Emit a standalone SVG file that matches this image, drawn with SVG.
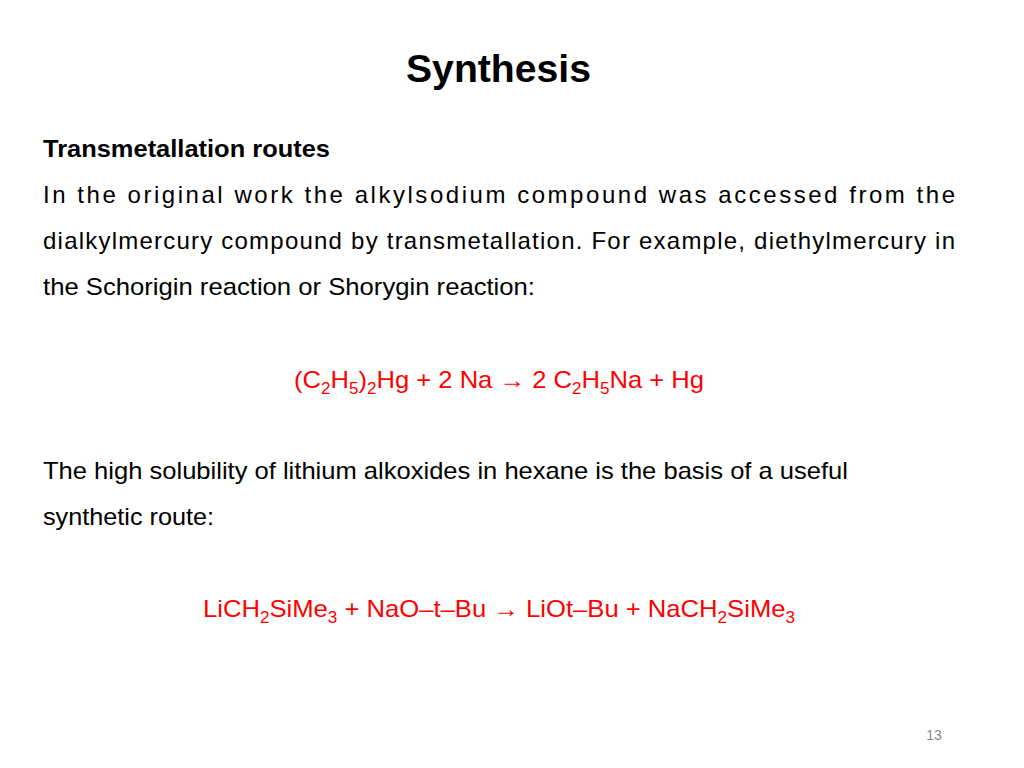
<svg xmlns="http://www.w3.org/2000/svg" width="1024" height="768" viewBox="0 0 1024 768">
<style>
text{font-family:"Liberation Sans",Arial,sans-serif;fill:#000}
.b{font-size:24px}
.r{font-size:24px;fill:#ff0000}
.s{font-size:16px}
</style>
<rect width="1024" height="768" fill="#fff"/>
<text x="406" y="82" font-size="39" font-weight="bold" textLength="185" lengthAdjust="spacingAndGlyphs">Synthesis</text>
<text x="43" y="157" class="b" font-weight="bold" textLength="287" lengthAdjust="spacingAndGlyphs">Transmetallation routes</text>
<text x="43" y="203" class="b" textLength="912" lengthAdjust="spacing">In the original work the alkylsodium compound was accessed from the</text>
<text x="43" y="249" class="b" textLength="912" lengthAdjust="spacing">dialkylmercury compound by transmetallation. For example,  diethylmercury in</text>
<text x="43" y="295" class="b" textLength="492" lengthAdjust="spacingAndGlyphs">the Schorigin reaction or Shorygin reaction:</text>
<text x="294" y="388" class="r" textLength="410" lengthAdjust="spacingAndGlyphs">(C<tspan class="s" dy="6">2</tspan><tspan dy="-6">H</tspan><tspan class="s" dy="6">5</tspan><tspan dy="-6">)</tspan><tspan class="s" dy="6">2</tspan><tspan dy="-6">Hg + 2 Na → 2 C</tspan><tspan class="s" dy="6">2</tspan><tspan dy="-6">H</tspan><tspan class="s" dy="6">5</tspan><tspan dy="-6">Na + Hg</tspan></text>
<text x="43" y="479" class="b" textLength="805" lengthAdjust="spacingAndGlyphs">The high solubility of lithium alkoxides in hexane is the basis of a useful</text>
<text x="43" y="525" class="b" textLength="171" lengthAdjust="spacingAndGlyphs">synthetic route:</text>
<text x="203" y="617" class="r" textLength="592" lengthAdjust="spacingAndGlyphs">LiCH<tspan class="s" dy="6">2</tspan><tspan dy="-6">SiMe</tspan><tspan class="s" dy="6">3</tspan><tspan dy="-6"> + NaO–t–Bu → LiOt–Bu + NaCH</tspan><tspan class="s" dy="6">2</tspan><tspan dy="-6">SiMe</tspan><tspan class="s" dy="6">3</tspan></text>
<text x="934" y="740" font-size="14" style="fill:#888" text-anchor="middle">13</text>
</svg>
